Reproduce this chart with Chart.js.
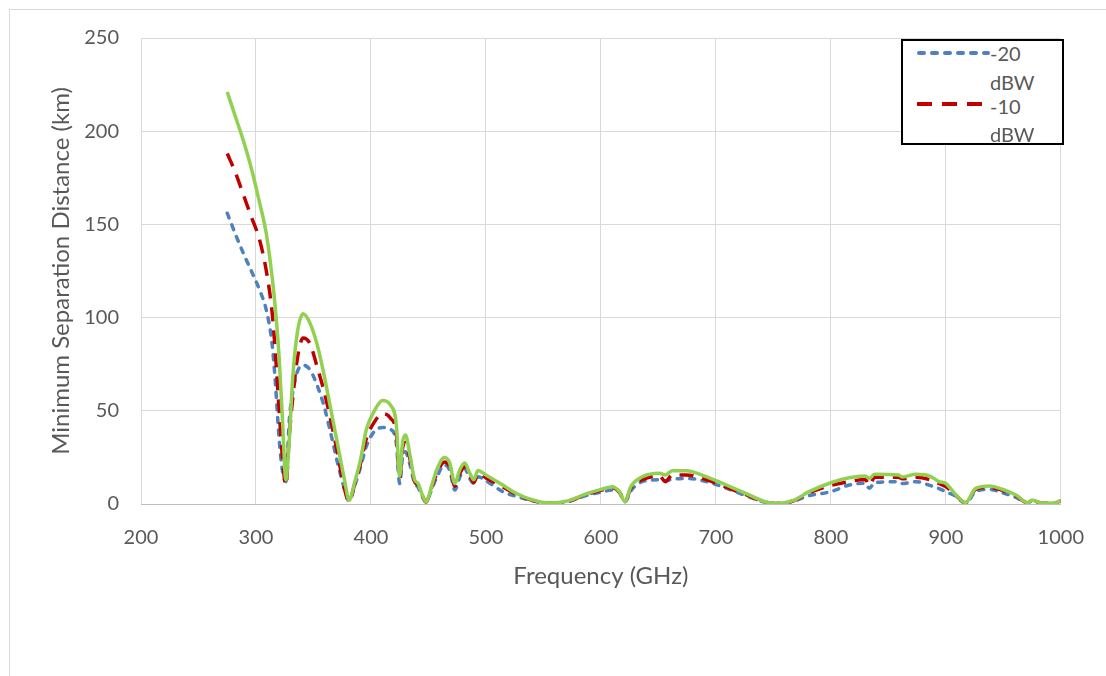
<!DOCTYPE html>
<html>
<head>
<meta charset="utf-8">
<script src="https://cdn.jsdelivr.net/npm/chart.js@4.4.1/dist/chart.umd.min.js"></script>
<style>
  html, body { margin: 0; padding: 0; background: #fff; overflow: hidden; }
  #wrap { position: relative; width: 1106px; height: 676px; }
  #frame { position: absolute; left: 9px; top: 9px; width: 1200px; height: 800px;
           border-left: 1px solid #d9d9d9; border-top: 1px solid #d9d9d9; }
  #c { position: absolute; left: 0; top: 0; }
  #legend { position: absolute; left: 901px; top: 39px; width: 159px; height: 102px;
            border: 2px solid #000; background: #fff; font-family: Lato, "Open Sans", sans-serif;
            font-size: 20px; color: #595959; }
  #legend svg { position: absolute; left: 13px; }
  #legend span { position: absolute; left: 87px; line-height: 24px; white-space: nowrap; }
</style>
</head>
<body>
<div id="wrap">
  <div id="frame"></div>
  <canvas id="c" width="1106" height="676"></canvas>
  <div id="legend">
    <svg width="74" height="12" style="top:6px"><line x1="3" y1="6" x2="72" y2="6" stroke="#4f81bd" stroke-width="4" stroke-dasharray="5 8" stroke-linecap="round"/></svg>
    <span style="top:0px">-20</span>
    <span style="top:29px">dBW</span>
    <svg width="74" height="12" style="top:57px"><line x1="1" y1="6" x2="72" y2="6" stroke="#c00000" stroke-width="4" stroke-dasharray="15 10"/></svg>
    <span style="top:53px">-10</span>
    <span style="top:81px">dBW</span>
  </div>
</div>
<script>
const freqGHz = [275,282,289,296,303,309,314,317,320,323,326,329,332,336,341,347,353,359,365,371,377,381,386,391,396,403,410,417,422,425,427.5,430,434,438,441,444,448,452,457,464,468.5,473,477,481.5,486,489.5,493,500,515,527,540,555,572,587,601,610,616,621,626,636,651,656,662,674,692,709,726,743,752,767,781,800,816,830,833.5,838,859,862,874,886,894,900,909,917,926,938,949,961,971,975,984,993,1000];

const distGreen = [221,208,195,180,162,145,122,104,80,46,13,35,68,92,102,97,86,70,51,32,13,2,12,24,40,50,55.5,53,43,15,33,37,26,13,11,6,1,8,18,25,22,11,18,22,16.5,13,18,15.5,10,5.5,2.3,0.5,1.8,5.4,8,9.3,6.6,1.2,9.3,14.6,16.5,15.6,17.9,17.9,14.6,10.2,5.7,1.2,0.3,1.8,6.6,11.4,14.1,15,13.8,15.9,15.6,14.5,15.9,15,12,11,4.8,0.7,8.4,9.7,7.9,4.8,0.7,2.1,0.4,0.4,1.8];

const distMinus10 = [188,178,166,154,142,125,103,80,52,25,10,37,57,78,89,86,74,61,45,27,8,1.5,11,22,35,44,48.5,46,38,14,30,33,24,12,10,5.5,1,7.5,16,22.5,20,9.5,16,20,15,11.5,16.5,14,9,5,2,0.4,1.6,5,7.5,8.7,6.3,1.2,8.5,13,15,12,15.5,15.6,13,9,5,1,0.3,1.6,6,10,12,13.2,10,14.3,14.3,13.5,14.3,13,11,9.3,4.5,0.7,7.8,8.9,7.3,4.4,0.7,1.9,0.4,0.4,1.6];

const distMinus20 = [156,145,134.5,125,115,104,86,64,36,18,12,45,60,71,74.5,72,64,53,38,22,8,1.5,10,20,31,39,41,40,33,11,25,28,21,11,9,5,1,6.5,14,21,18,7.5,14,19,13.5,11,14.6,12.5,6.5,4,1.7,0.3,1.4,4.5,6.5,7.5,6.5,1.2,7,12,13,12.5,13.2,13.8,12,8.5,4.5,0.9,0.2,1.4,4.5,6.6,10.2,11.1,8.4,11.5,12,11,12,10,8.3,6.6,4,0.5,6.6,7.9,6.1,3.5,0.6,1.7,0.3,0.3,1.5];

const yTicks = [0,50,100,150,200,250];
const xTicks = [200,300,400,500,600,700,800,900,1000];

const toXY = arr => freqGHz.map((f, i) => ({x: f, y: arr[i]}));
const FONT = 'Lato, "Open Sans", sans-serif';

new Chart(document.getElementById('c'), {
  type: 'line',
  data: {
    datasets: [
      { label: '-20 dBW', data: toXY(distMinus20), borderColor: '#4f81bd', borderWidth: 3.5,
        borderDash: [5, 7.5], borderCapStyle: 'round', order: 3 },
      { label: '-10 dBW', data: toXY(distMinus10), borderColor: '#c00000', borderWidth: 3.5,
        borderDash: [14, 9], order: 2 },
      { label: '-30 dBW', data: toXY(distGreen), borderColor: '#92d050', borderWidth: 3.5,
        order: 1 }
    ]
  },
  options: {
    responsive: false,
    animation: false,
    events: [],
    elements: { point: { radius: 0 }, line: { cubicInterpolationMode: 'monotone', fill: false } },
    layout: { padding: { left: 43, top: 38, right: 44, bottom: 81 } },
    plugins: { legend: { display: false }, tooltip: { enabled: false } },
    scales: {
      x: {
        type: 'linear', min: 200, max: 1000,
        afterBuildTicks: s => { s.ticks = xTicks.map(v => ({value: v})); },
        afterFit: s => { s.height = 91; },
        grid: { color: '#d9d9d9', lineWidth: 1, drawTicks: false },
        border: { color: '#bfbfbf', width: 1 },
        ticks: { padding: 22, color: '#595959', font: { family: FONT, size: 20 }, maxRotation: 0,
                 callback: v => String(v) },
        title: { display: true, text: 'Frequency (GHz)', color: '#595959', font: { family: FONT, size: 24 }, padding: 4 }
      },
      y: {
        type: 'linear', min: 0, max: 250,
        afterBuildTicks: s => { s.ticks = yTicks.map(v => ({value: v})); },
        afterFit: s => { s.width = 98; },
        grid: { color: '#d9d9d9', lineWidth: 1, drawTicks: false },
        border: { display: false },
        ticks: { padding: 22, color: '#595959', font: { family: FONT, size: 20 }, callback: v => String(v) },
        title: { display: true, text: 'Minimum Separation Distance (km)', color: '#595959', font: { family: FONT, size: 24 }, padding: 4 }
      }
    }
  }
});
</script>
</body>
</html>
